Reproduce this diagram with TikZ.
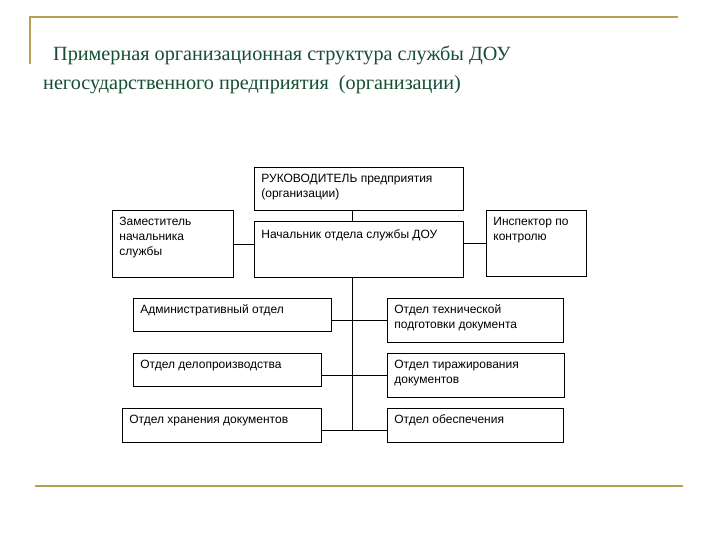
\documentclass[tikz,border=0pt]{standalone}
\usepackage{fontspec}
\setmainfont{Liberation Serif}
\newfontfamily\boxfont{Liberation Sans}
\definecolor{rulegold}{RGB}{184,160,82}
\definecolor{titlegreen}{RGB}{22,78,52}
% text of a unit: fixed box, text in the top left corner
\newcommand\unittext[3]{\parbox[c][#2][t]{#1}{\raggedright\leftskip=7pt\rule{0pt}{15pt}#3}}
\begin{document}
\begin{tikzpicture}[x=1pt,y=-1pt,
    unitbox/.style={draw, line width=0.8pt, inner sep=0pt, anchor=north west,
      font=\boxfont\fontsize{12}{15}\selectfont},
    link/.style={line width=0.8pt},
    goldrule/.style={rulegold, line width=2pt},
    titletext/.style={anchor=base west, inner sep=0pt, titlegreen,
      font=\fontsize{20.2}{29}\selectfont}]
    \useasboundingbox (0,0) rectangle (720,540);

    % Frame lines
    \draw[goldrule] (30,64) -- (30,17) -- (678,17);
    \draw[goldrule] (35,486) -- (683,486);

    % Title
    \node[titletext] (title1) at (53,61) {Примерная организационная структура службы ДОУ};
    \node[titletext] (title2) at (43,90) {негосударственного предприятия\ \ (организации)};

    % Top level
    \node[unitbox] (head) at (254,167) {\unittext{209pt}{43pt}{РУКОВОДИТЕЛЬ предприятия\\(организации)}};
    \node[unitbox] (chief) at (254,221) {\unittext{209pt}{56pt}{\rule{0pt}{17pt}Начальник отдела службы ДОУ}};
    \node[unitbox] (deputy) at (112,210) {\unittext{121pt}{67pt}{Заместитель\\начальника\\службы}};
    \node[unitbox] (inspector) at (486,210) {\unittext{100pt}{66pt}{Инспектор по\\контролю}};

    % Departments, left
    \node[unitbox] (admin) at (133,298) {\unittext{198pt}{33pt}{Административный отдел}};
    \node[unitbox] (records) at (133,353) {\unittext{188pt}{33pt}{Отдел делопроизводства}};
    \node[unitbox] (storage) at (122,408) {\unittext{199pt}{34pt}{Отдел хранения документов}};

    % Departments, right
    \node[unitbox] (techprep) at (387,298) {\unittext{176pt}{44pt}{Отдел технической\\подготовки документа}};
    \node[unitbox] (copying) at (387,353) {\unittext{177pt}{44pt}{Отдел тиражирования\\документов}};
    \node[unitbox] (supply) at (387,408) {\unittext{176pt}{34pt}{Отдел обеспечения}};

    % Connectors
    \coordinate (trunk) at (352,0);
    \coordinate (trunkend) at (352,430);
    \draw[link] (head.south -| trunk) -- (chief.north -| trunk);
    \draw[link] (chief.south -| trunk) -- (trunkend);
    \draw[link] (deputy.east) -- (deputy.east -| chief.west);
    \draw[link] (chief.east |- inspector.west) -- (inspector.west);
    \draw[link] (techprep.west -| admin.east) -- (techprep.west);
    \draw[link] (copying.west -| records.east) -- (copying.west);
    \draw[link] (storage.east |- trunkend) -- (supply.west |- trunkend);
\end{tikzpicture}
\end{document}
